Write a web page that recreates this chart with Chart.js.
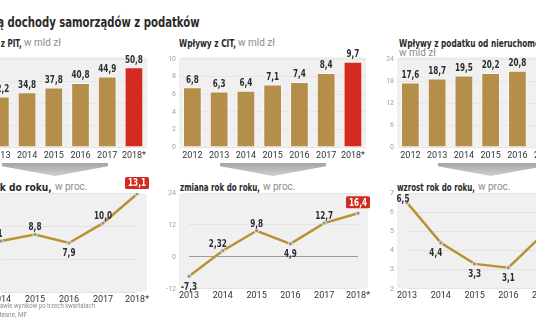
<!DOCTYPE html>
<html lang="pl">
<head>
<meta charset="utf-8">
<title>Dochody samorządów z podatków</title>
<script src="https://cdn.jsdelivr.net/npm/chart.js@4.4.1/dist/chart.umd.min.js"></script>
<style>
  html, body { margin: 0; padding: 0; background: #fff; }
  #page { position: relative; width: 536px; height: 332px; overflow: hidden; font-family: Roboto, "Noto Sans", sans-serif; }
  .txt { position: absolute; white-space: nowrap; line-height: 1; }
  .title { font: bold 13.5px "DejaVu Sans Condensed", Roboto, sans-serif; color: #2a2a2a; }
  .head { font: bold 10.5px "DejaVu Sans Condensed", Roboto, sans-serif; color: #2a2a2a; }
  .unit { font-size: 10px; color: #8c8c8c; }
  .note { font-size: 7px; color: #8c8c8c; }
  .arrow { position: absolute; top: 163px; width: 106px; height: 13px;
           clip-path: polygon(0 0, 100% 0, 100% 25%, 50% 100%, 0 25%);
           background: linear-gradient(#a4a4a4, #d0d0d0); }
  canvas { position: absolute; }
</style>
</head>
<body>
<div id="page">
  <div class="txt title" style="right:336px; top:14px;" data-w="192">Rosną <span class="m">dochody samorządów z podatków</span></div>

  <div class="txt head" style="right:514px; top:37px;" data-w="21">Wpływy <span class="m">z PIT,</span></div>
  <div class="txt unit" style="left:24px; top:38px;">w mld zł</div>
  <div class="txt head" style="left:179px; top:37px;" data-w="57">Wpływy z CIT,</div>
  <div class="txt unit" style="left:238px; top:38px;">w mld zł</div>
  <div class="txt head" style="left:399px; top:37px;" data-w="136"><span class="m">Wpływy z podatku od nieruchom</span>ości,</div>
  <div class="txt unit" style="left:399px; top:48px;">w mld zł</div>

  <canvas id="pitBars" width="162" height="122" style="left:-13px; top:40px;"></canvas>
  <canvas id="citBars" width="209" height="122" style="left:159px; top:40px;"></canvas>
  <canvas id="propBars" width="209" height="122" style="left:377px; top:40px;"></canvas>

  <div class="arrow" style="left:2px;"></div>
  <div class="arrow" style="left:220px;"></div>
  <div class="arrow" style="left:438px;"></div>

  <div class="txt head" style="right:484px; top:181px;" data-w="52">wzrost ro<span class="m">k do roku,</span></div>
  <div class="txt unit" style="left:55px; top:182px;">w proc.</div>
  <div class="txt head" style="left:180px; top:181px;" data-w="80">zmiana rok do roku,</div>
  <div class="txt unit" style="left:263px; top:182px;">w proc.</div>
  <div class="txt head" style="left:397px; top:181px;" data-w="78">wzrost rok do roku,</div>
  <div class="txt unit" style="left:478px; top:182px;">w proc.</div>

  <canvas id="pitLine" width="176" height="133" style="left:-19px; top:173px;"></canvas>
  <canvas id="citLine" width="218" height="133" style="left:160px; top:173px;"></canvas>
  <canvas id="propLine" width="218" height="133" style="left:378px; top:173px;"></canvas>

  <div class="txt note" style="right:441px; top:303px;" data-w="81">* prognoza na podstawie <span class="m">wyników po trzech kwartałach</span></div>
  <div class="txt note" style="right:509px; top:312px;" data-w="26">Źródło: obliczenia wł<span class="m">asne, MF</span></div>
</div>

<script>
// wpływy, mld zł
const pitYears = ['2013', '2014', '2015', '2016', '2017', '2018*'];
const pitValues = [32.2, 34.8, 37.8, 40.8, 44.9, 50.8];
const citYears = ['2012', '2013', '2014', '2015', '2016', '2017', '2018*'];
const citValues = [6.8, 6.3, 6.4, 7.1, 7.4, 8.4, 9.7];
const propYears = ['2012', '2013', '2014', '2015', '2016', '2017', '2018*'];
const propValues = [17.6, 18.7, 19.5, 20.2, 20.8, null, null];

// dynamika rok do roku, %
const pitGrowthYears = ['2014', '2015', '2016', '2017', '2018*'];
const pitGrowth = [8.1, 8.8, 7.9, 10.0, 13.1];
const citChangeYears = ['2013', '2014', '2015', '2016', '2017', '2018*'];
const citChange = [-7.3, 2.32, 9.8, 4.9, 12.7, 16.4];
const propGrowthYears = ['2013', '2014', '2015', '2016', '2017', '2018*'];
const propGrowth = [6.5, 4.4, 3.3, 3.1, 4.8, null];

// gdzie stoi podpis przy punkcie
const pitGrowthPos = ['above-left', 'above', 'below', 'above', 'box'];
const citChangePos = ['below', 'above-left', 'above', 'below', 'above', 'box'];
const propGrowthPos = ['left', 'below-left', 'below', 'below', 'above', 'box'];

const GOLD = '#b58f4a';
const LINE_GOLD = '#bb9233';
const RED = '#d42a1f';
const VALUE_FONT = 'bold 11px "DejaVu Sans Condensed", Roboto, sans-serif';

// zwężenie tekstów do szerokości kroju condensed
document.querySelectorAll('[data-w]').forEach(el => {
  const m = el.querySelector('.m') || el;
  const k = +el.dataset.w / m.getBoundingClientRect().width;
  el.style.transformOrigin = el.style.right ? 'right center' : 'left center';
  el.style.transform = 'scaleX(' + k + ')';
});

const probe = document.createElement('canvas').getContext('2d');
probe.font = VALUE_FONT;
const SQUEEZE = 18 / probe.measureText('34,8').width;

Chart.defaults.font.family = 'Roboto, "Noto Sans", sans-serif';
Chart.defaults.animation = false;

const fmt = v => v.toLocaleString('pl-PL', { minimumFractionDigits: 1 });

function squeezedText(ctx, text, x, y) {
  ctx.save();
  ctx.translate(x, y);
  ctx.scale(SQUEEZE, 1);
  ctx.fillText(text, 0, 0);
  ctx.restore();
}

function plotBackground(padX, padTop) {
  return {
    id: 'plotBackground',
    beforeDraw(chart) {
      const { ctx, chartArea: a } = chart;
      ctx.save();
      ctx.fillStyle = '#f0f0f0';
      ctx.beginPath();
      ctx.roundRect(a.left - padX, a.top - padTop, a.width + 2 * padX, a.height + padTop, 4);
      ctx.fill();
      ctx.restore();
    }
  };
}

const barValueLabels = {
  id: 'barValueLabels',
  afterDatasetsDraw(chart) {
    const ctx = chart.ctx;
    const values = chart.data.datasets[0].data;
    chart.getDatasetMeta(0).data.forEach((bar, i) => {
      if (values[i] == null) return;
      ctx.save();
      ctx.font = VALUE_FONT;
      ctx.fillStyle = '#2e2e2e';
      ctx.textAlign = 'center';
      ctx.textBaseline = 'bottom';
      squeezedText(ctx, fmt(values[i]), bar.x, bar.y - 2);
      ctx.restore();
    });
  }
};

function pointLabels(placement) {
  return {
    id: 'pointLabels',
    afterDatasetsDraw(chart) {
      const ctx = chart.ctx;
      const values = chart.data.datasets[0].data;
      chart.getDatasetMeta(0).data.forEach((pt, i) => {
        const v = values[i];
        if (v == null) return;
        const pos = placement[i];
        const text = fmt(v);
        ctx.save();
        ctx.font = VALUE_FONT;
        ctx.textAlign = 'center';
        ctx.fillStyle = '#2e2e2e';
        if (pos === 'box') {
          const w = ctx.measureText(text).width * SQUEEZE + 6;
          ctx.fillStyle = RED;
          ctx.beginPath();
          ctx.roundRect(pt.x - w / 2, pt.y - 17, w, 12, 1.5);
          ctx.fill();
          ctx.fillStyle = '#fff';
          ctx.textBaseline = 'middle';
          squeezedText(ctx, text, pt.x, pt.y - 10.5);
        } else if (pos === 'left') {
          // tuż przy punkcie, linia schodzi w prawo
          ctx.textBaseline = 'alphabetic';
          squeezedText(ctx, text, pt.x - 4, pt.y - 1);
        } else {
          const dx = pos.endsWith('-left') ? -5 : 0;
          if (pos.startsWith('above')) {
            ctx.textBaseline = 'alphabetic';
            squeezedText(ctx, text, pt.x + dx, pt.y - 4);
          } else {
            ctx.textBaseline = 'top';
            squeezedText(ctx, text, pt.x + dx, pt.y + 5);
          }
        }
        ctx.restore();
      });
    }
  };
}

function barChart(id, labels, values, max, step, showTicks) {
  new Chart(document.getElementById(id), {
    type: 'bar',
    data: {
      labels: labels,
      datasets: [{
        data: values,
        backgroundColor: labels.map(l => l.endsWith('*') ? RED : GOLD),
        borderColor: 'rgba(255,255,255,0.55)',
        borderWidth: 1,
        barPercentage: 0.7,
        categoryPercentage: 1
      }]
    },
    options: {
      responsive: false,
      devicePixelRatio: 1,
      layout: { padding: { top: 19, left: 0, right: 0, bottom: 0 } },
      plugins: { legend: { display: false }, tooltip: { enabled: false } },
      scales: {
        x: {
          grid: { display: false, drawTicks: false },
          border: { display: false },
          ticks: { color: '#333', font: { size: 9 }, padding: 3, maxRotation: 0, autoSkip: false },
          afterFit(s) { s.height = 15; }
        },
        y: {
          min: 0,
          max: max,
          grid: { color: '#e6e6e6', drawTicks: false },
          border: { display: false },
          ticks: { display: showTicks, stepSize: step, color: '#a0a0a0', font: { size: 7 }, padding: 3 },
          afterFit(s) { s.width = showTicks ? 20 : 0; }
        }
      }
    },
    plugins: [plotBackground(0, 2), barValueLabels]
  });
}

function lineChart(id, labels, values, placement, yOpts) {
  new Chart(document.getElementById(id), {
    type: 'line',
    data: {
      labels: labels,
      datasets: [{
        data: values,
        borderColor: LINE_GOLD,
        borderWidth: 2.5,
        pointRadius: 2,
        pointBackgroundColor: '#8e8e8e',
        pointBorderColor: '#e6e6e6',
        pointBorderWidth: 1,
        tension: 0
      }]
    },
    options: {
      responsive: false,
      devicePixelRatio: 1,
      layout: { padding: { top: 20, left: yOpts.ticks ? 5 : 20, right: 20, bottom: 0 } },
      plugins: { legend: { display: false }, tooltip: { enabled: false } },
      scales: {
        x: {
          grid: { display: false, drawTicks: false },
          border: { display: false },
          ticks: { color: '#333', font: { size: 9 }, padding: 2, maxRotation: 0, autoSkip: false },
          afterFit(s) { s.height = 14; }
        },
        y: {
          min: yOpts.min,
          max: yOpts.max,
          grid: {
            drawTicks: false,
            color: c => c.tick.value === 0 ? '#9a9a9a' : '#e3e3e3'
          },
          border: { display: false },
          ticks: { display: !!yOpts.ticks, stepSize: yOpts.step, color: '#a0a0a0', font: { size: 7 }, padding: 13 },
          afterBuildTicks(s) { if (yOpts.gridAt) s.ticks = yOpts.gridAt.map(v => ({ value: v })); },
          afterFit(s) { s.width = yOpts.ticks ? 24 : 0; }
        }
      }
    },
    plugins: [plotBackground(10, 0), pointLabels(placement)]
  });
}

barChart('pitBars', pitYears, pitValues, 56, 14, false);
barChart('citBars', citYears, citValues, 10, 2, true);
barChart('propBars', propYears, propValues, 24, 6, true);

lineChart('pitLine', pitGrowthYears, pitGrowth, pitGrowthPos, { min: 2.7, max: 13.2, gridAt: [2.7, 6.2, 9.7, 13.2] });
lineChart('citLine', citChangeYears, citChange, citChangePos, { min: -12, max: 24, step: 12, ticks: true });
lineChart('propLine', propGrowthYears, propGrowth, propGrowthPos, { min: 2, max: 7, step: 1, ticks: true });
</script>
</body>
</html>
